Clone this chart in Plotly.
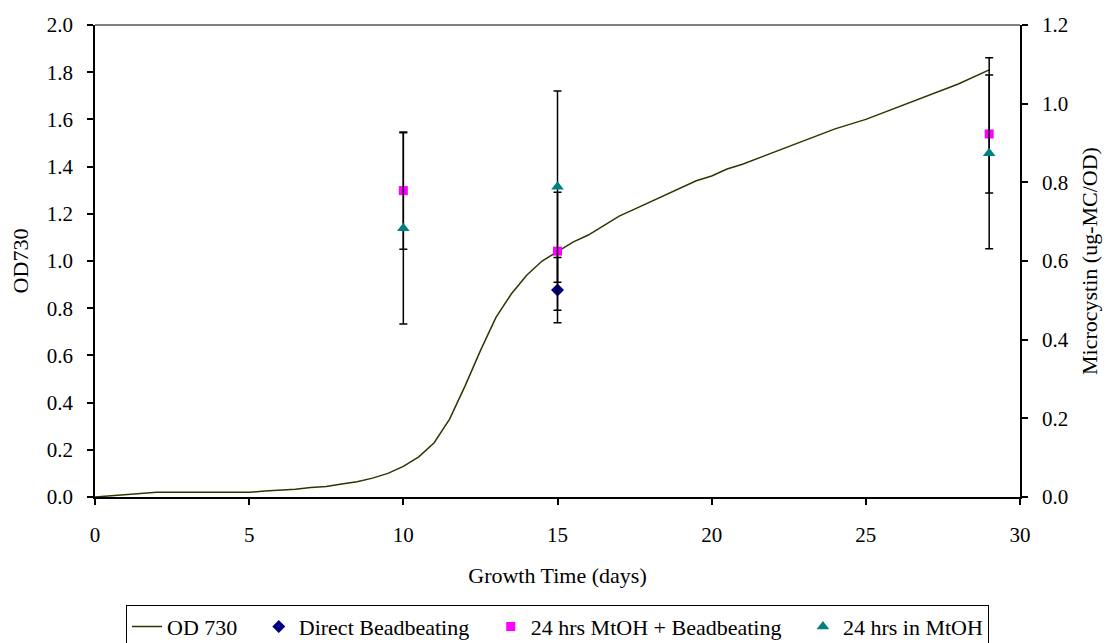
import plotly.graph_objects as go

# OD730 growth curve
days = [0, 0.5, 1, 1.5, 2, 3, 4, 5, 5.5, 6, 6.5, 7, 7.5, 8, 8.5, 9, 9.5, 10, 10.5, 11,
        11.5, 12, 12.5, 13, 13.5, 14, 14.5, 15, 15.5, 16, 16.5, 17, 17.5, 18, 18.5, 19,
        19.5, 20, 20.5, 21, 22, 23, 24, 25, 26, 27, 28, 29]
od730 = [0.0, 0.005, 0.01, 0.015, 0.02, 0.02, 0.02, 0.02, 0.025, 0.028, 0.033, 0.04, 0.045,
         0.055, 0.065, 0.08, 0.1, 0.13, 0.17, 0.23, 0.33, 0.47, 0.62, 0.76, 0.86, 0.94, 1.0,
         1.04, 1.08, 1.11, 1.15, 1.19, 1.22, 1.25, 1.28, 1.31, 1.34, 1.36, 1.39, 1.41, 1.46,
         1.51, 1.56, 1.60, 1.65, 1.70, 1.75, 1.81]

# microcystin measurements
direct_days = [15]
direct_mc = [0.526]
direct_err = [0.083]

mtoh_bead_days = [10, 15, 29]
mtoh_bead_mc = [0.779, 0.625, 0.923]
mtoh_bead_err = [0.149, 0.15, 0.15]

mtoh_days = [10, 15, 29]
mtoh_mc = [0.683, 0.789, 0.874]
mtoh_err = [0.243, 0.243, 0.243]

font_family = "Liberation Serif"
pad = "\u00a0\u00a0\u00a0"
err_style = dict(type="data", visible=True, color="black", thickness=1.5, width=4)

fig = go.Figure()

fig.add_trace(go.Scatter(x=days, y=od730, mode="lines", name="OD 730" + pad,
                         line=dict(color="#333300", width=1.5)))

fig.add_trace(go.Scatter(x=direct_days, y=direct_mc, mode="markers",
                         name="Direct Beadbeating" + pad,
                         yaxis="y2", marker=dict(symbol="diamond", color="#000080", size=10),
                         error_y=dict(array=direct_err, **err_style)))

fig.add_trace(go.Scatter(x=mtoh_bead_days, y=mtoh_bead_mc, mode="markers",
                         name="24 hrs MtOH + Beadbeating" + pad, yaxis="y2",
                         marker=dict(symbol="square", color="#FF00FF", size=9),
                         error_y=dict(array=mtoh_bead_err, **err_style)))

fig.add_trace(go.Scatter(x=mtoh_days, y=mtoh_mc, mode="markers", name="24 hrs in MtOH",
                         yaxis="y2", marker=dict(symbol="triangle-up", color="#008080", size=11),
                         error_y=dict(array=mtoh_err, **err_style)))

tick_font = dict(family=font_family, size=21, color="black")
title_font = dict(family=font_family, size=22, color="black")

fig.update_layout(
    width=1111, height=643,
    margin=dict(l=87, r=99, t=17, b=154, autoexpand=False),
    paper_bgcolor="white", plot_bgcolor="white",
    font=dict(family=font_family, size=21, color="black"),
    xaxis=dict(range=[0, 30], dtick=5, showgrid=False, zeroline=False,
               showline=True, linecolor="black", linewidth=1.5, automargin=False,
               ticks="outside", ticklen=6, tickcolor="black", tickwidth=1.5,
               tickfont=tick_font, ticklabelstandoff=12,
               title=dict(text="Growth Time (days)", font=title_font, standoff=22)),
    yaxis=dict(range=[0, 2.0], dtick=0.2, tickformat=".1f", showgrid=False, zeroline=False,
               showline=True, linecolor="black", linewidth=1.5, automargin=False,
               ticks="outside", ticklen=6, tickcolor="black", tickwidth=1.5,
               tickfont=tick_font, ticklabelstandoff=10,
               title=dict(text="OD730", font=title_font, standoff=14)),
    yaxis2=dict(range=[0, 1.2], dtick=0.2, tickformat=".1f", overlaying="y", side="right",
                showgrid=False, zeroline=False, automargin=False,
                showline=True, linecolor="black", linewidth=1.5,
                ticks="outside", ticklen=6, tickcolor="black", tickwidth=1.5,
                tickfont=tick_font, ticklabelstandoff=10,
                title=dict(text="Microcystin (ug-MC/OD)", font=title_font, standoff=14)),
    legend=dict(orientation="h", x=0.5, xanchor="center", y=-0.228, yanchor="top",
                bordercolor="black", borderwidth=1, bgcolor="white",
                font=dict(family=font_family, size=22, color="black"),
                itemwidth=30, tracegroupgap=0),
    showlegend=True,
)

# grey top border of the plot area
fig.add_shape(type="line", xref="paper", yref="paper", x0=0, x1=1, y0=1, y1=1,
              line=dict(color="#808080", width=2))

fig.write_html("out.html")
